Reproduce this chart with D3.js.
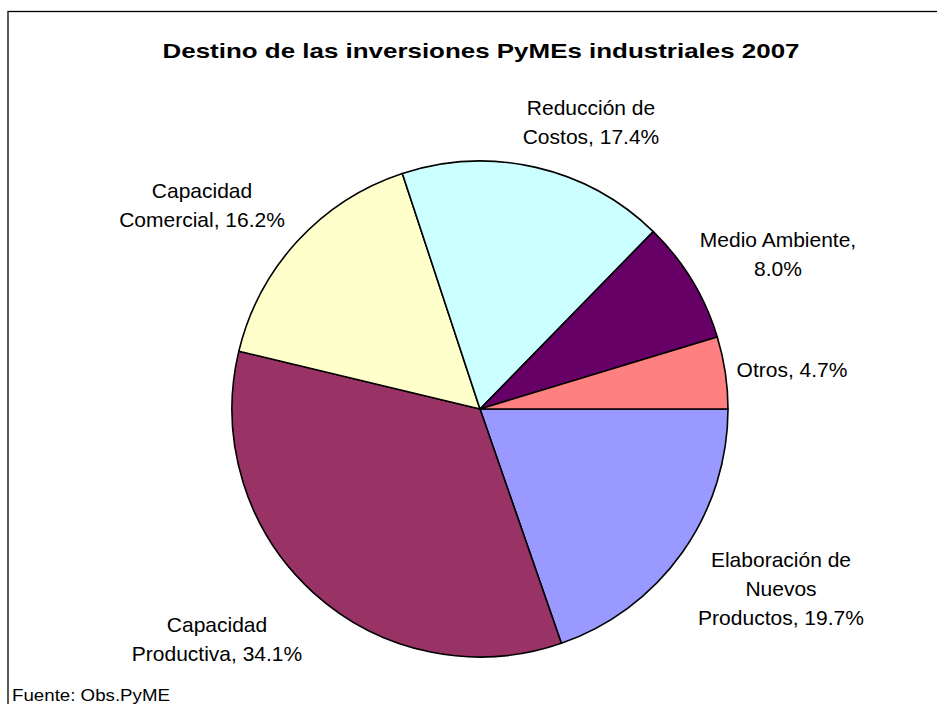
<!DOCTYPE html>
<html>
<head>
<meta charset="utf-8">
<script src="https://cdn.jsdelivr.net/npm/d3@7"></script>
<style>
  html, body { margin: 0; padding: 0; background: #fff; }
  svg { display: block; }
  text { font-family: "Liberation Sans", Arial, sans-serif; fill: #000; }
</style>
</head>
<body>
<svg id="chart" width="937" height="704"></svg>
<script>
// ---- data ----
const categories = [
  "Elaboración de Nuevos Productos",
  "Capacidad Productiva",
  "Capacidad Comercial",
  "Reducción de Costos",
  "Medio Ambiente",
  "Otros"
];
const values = [19.7, 34.1, 16.2, 17.4, 8.0, 4.7];
const colors = ["#9999FF", "#993366", "#FFFFCC", "#CCFFFF", "#660066", "#FF8080"];
const labelLines = [
  ["Elaboración de", "Nuevos", "Productos, 19.7%"],
  ["Capacidad", "Productiva, 34.1%"],
  ["Capacidad", "Comercial, 16.2%"],
  ["Reducción de", "Costos, 17.4%"],
  ["Medio Ambiente,", "8.0%"],
  ["Otros, 4.7%"]
];
const title = "Destino de las inversiones PyMEs industriales 2007";
const footer = "Fuente: Obs.PyME";

// ---- layout ----
const cx = 480, cy = 409, radius = 248;
const labelAnchors = [
  [781, 567], [217, 632], [202, 198], [591, 115], [778, 247], [792, 377]
];
const lineH = 29;

const svg = d3.select("#chart");

// outer border (extends beyond viewport on right/bottom)
svg.append("rect")
  .attr("x", 8).attr("y", 11.5)
  .attr("width", 1000).attr("height", 1000)
  .attr("fill", "none").attr("stroke", "#000").attr("stroke-width", 1.3);

svg.append("text")
  .attr("x", 481).attr("y", 58)
  .attr("text-anchor", "middle")
  .style("font-size", "21px").style("font-weight", "bold")
  .attr("textLength", 637).attr("lengthAdjust", "spacingAndGlyphs")
  .text(title);

const pie = d3.pie().sort(null).value(d => d)
  .startAngle(Math.PI / 2).endAngle(Math.PI / 2 + 2 * Math.PI);
const arc = d3.arc().innerRadius(0).outerRadius(radius);

const g = svg.append("g").attr("transform", `translate(${cx},${cy})`);
g.selectAll("path")
  .data(pie(values))
  .join("path")
  .attr("d", arc)
  .attr("fill", (d, i) => colors[i])
  .attr("stroke", "#000")
  .attr("stroke-width", 1.6)
  .attr("stroke-linejoin", "round");

labelLines.forEach((lines, i) => {
  const t = svg.append("text")
    .attr("text-anchor", "middle")
    .style("font-size", "21px");
  lines.forEach((ln, j) => {
    t.append("tspan")
      .attr("x", labelAnchors[i][0])
      .attr("y", labelAnchors[i][1] + j * lineH)
      .text(ln);
  });
});

svg.append("text")
  .attr("x", 12).attr("y", 701)
  .style("font-size", "16px")
  .attr("textLength", 158).attr("lengthAdjust", "spacingAndGlyphs")
  .text(footer);
</script>
</body>
</html>
